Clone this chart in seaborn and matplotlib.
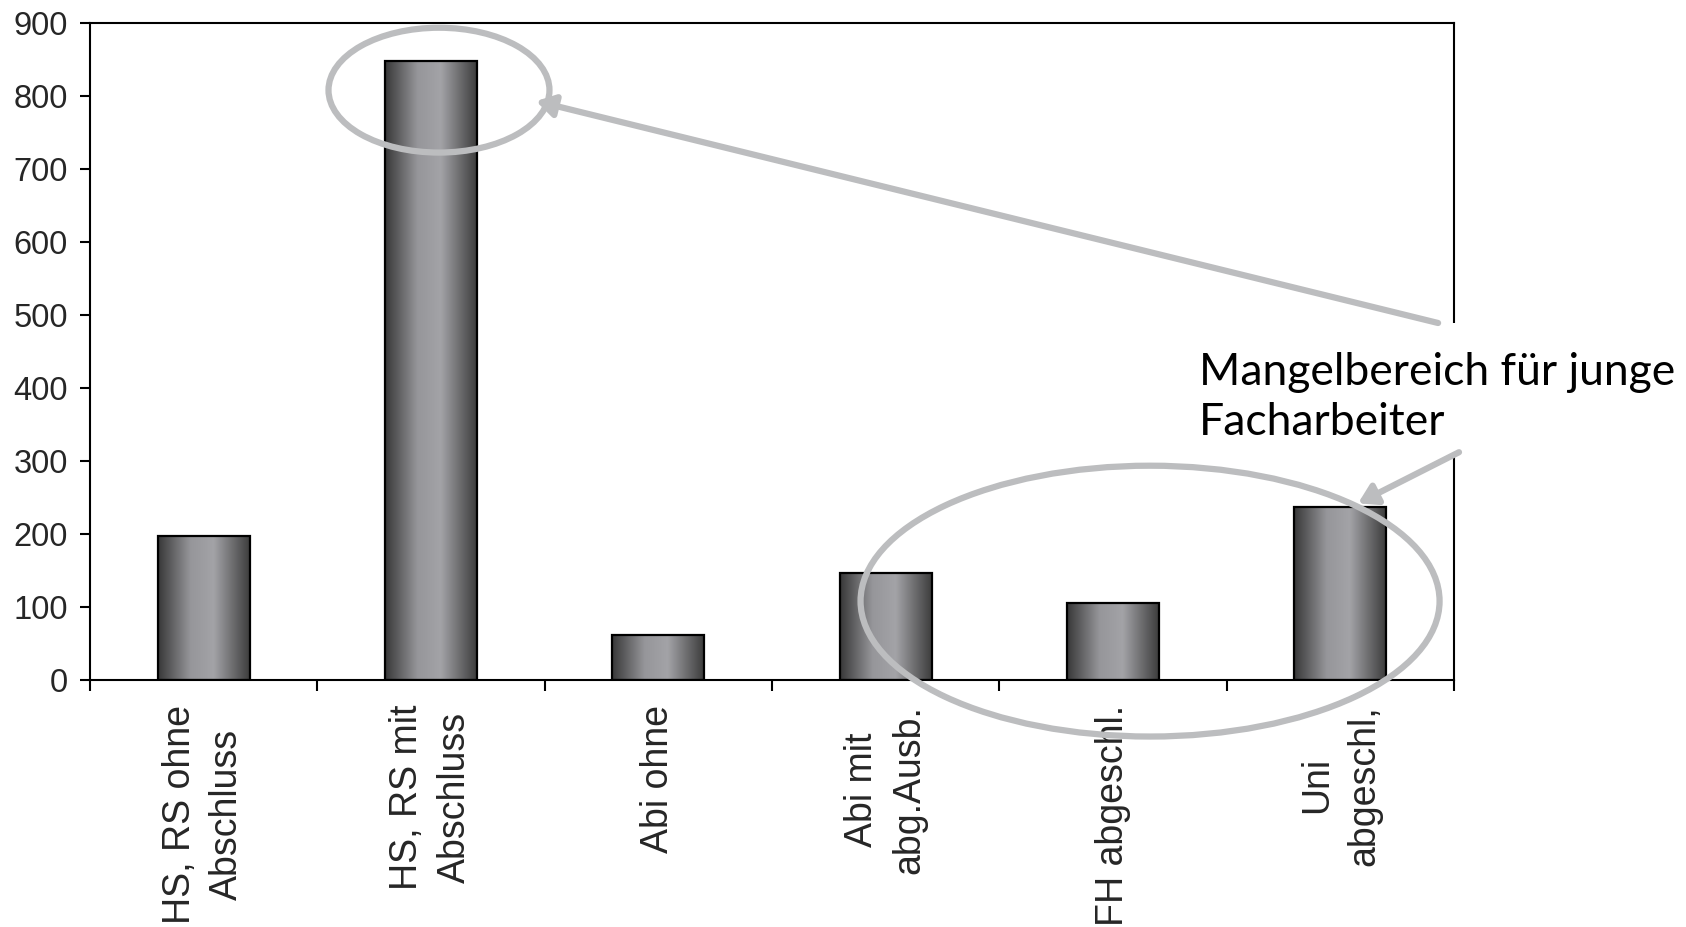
import numpy as np
import matplotlib
matplotlib.use("Agg")
import matplotlib.pyplot as plt
from matplotlib.colors import LinearSegmentedColormap
from matplotlib.patches import Ellipse, Rectangle
import seaborn as sns

# Bildungsabschlüsse und zugehörige Werte
categories = ["HS, RS ohne\nAbschluss", "HS, RS mit\nAbschluss", "Abi ohne",
              "Abi mit\nabg.Ausb.", "FH abgeschl.", "Uni\nabgeschl,"]
values = [197, 848, 61, 146, 106, 237]
y_ticks = [0, 100, 200, 300, 400, 500, 600, 700, 800, 900]

annotation_text = "Mangelbereich für junge\nFacharbeiter"

sns.set_theme(style="white")
plt.rcParams["font.family"] = ["Liberation Sans", "DejaVu Sans"]

fig = plt.figure(figsize=(16.86, 9.27), dpi=100)
ax = fig.add_axes([0.0534, 0.2665, 0.8090, 0.7087])

sns.barplot(x=categories, y=values, width=0.405, color="#808080",
            edgecolor="black", linewidth=1.6, ax=ax, zorder=2)

ax.set_xlim(-0.5, len(categories) - 0.5)
ax.set_ylim(0, 900)

# horizontal grey gradient inside each bar
grad_cmap = LinearSegmentedColormap.from_list(
    "bar_grad",
    [(0.0, "#383838"), (0.35, "#96969a"), (0.6, "#a3a3a7"), (1.0, "#3a3a3a")])
grad = np.linspace(0, 1, 256).reshape(1, -1)
for p in ax.patches:
    x0, y0 = p.get_x(), p.get_y()
    w, h = p.get_width(), p.get_height()
    ax.imshow(grad, cmap=grad_cmap, aspect="auto", extent=[x0, x0 + w, y0, y0 + h],
              interpolation="bicubic", zorder=1.9)
    p.set_facecolor("none")
ax.set_xlim(-0.5, len(categories) - 0.5)
ax.set_ylim(0, 900)
ax.set_aspect("auto")

# axes frame and ticks
for s in ax.spines.values():
    s.set_visible(True)
    s.set_color("black")
    s.set_linewidth(1.5)
ax.set_yticks(y_ticks)
ax.set_yticklabels([str(v) for v in y_ticks], fontsize=23.5)
ax.tick_params(axis="y", which="major", direction="out", length=7, width=1.5,
               color="black", left=True, pad=9)
ax.set_xticks(range(len(categories)))
ax.set_xticklabels(categories, rotation=90, fontsize=27, ha="center", va="top",
                   multialignment="center", linespacing=1.4)
ax.tick_params(axis="x", which="major", length=0, pad=18)
ax.set_xticks(np.arange(-0.5, len(categories)), minor=True)
ax.tick_params(axis="x", which="minor", direction="out", length=8, width=1.5,
               color="black", bottom=True)
ax.set_xlabel("")
ax.set_ylabel("")
ax.grid(False)

grey = "#bcbdbf"
# highlighted regions
ax.add_patch(Ellipse((1.035, 808), 0.972, 171, fill=False, edgecolor=grey,
                     linewidth=4.5, zorder=4, clip_on=False))
ax.add_patch(Ellipse((4.163, 108), 2.547, 371, fill=False, edgecolor=grey,
                     linewidth=4.5, zorder=4, clip_on=False))

# white gap behind the note, cutting the right frame line
ax.add_patch(Rectangle((5.40, 312), 0.25, 177, facecolor="white", edgecolor="none",
                       zorder=3, clip_on=False))

ax.text(4.378, 336, annotation_text, fontsize=32, family=["Lato", "DejaVu Sans"],
        color="black", ha="left", va="baseline", linespacing=1.25, zorder=6,
        clip_on=False)

arrow_style = dict(arrowstyle="-|>,head_length=0.9,head_width=0.55", color=grey,
                   linewidth=4.5, shrinkA=0, shrinkB=0)
ax.annotate("", xy=(1.462, 793), xytext=(5.430, 489), arrowprops=arrow_style,
            annotation_clip=False, zorder=5)
ax.annotate("", xy=(5.078, 242), xytext=(5.522, 312), arrowprops=arrow_style,
            annotation_clip=False, zorder=5)

fig.savefig("out.png", dpi=100, facecolor="white")
